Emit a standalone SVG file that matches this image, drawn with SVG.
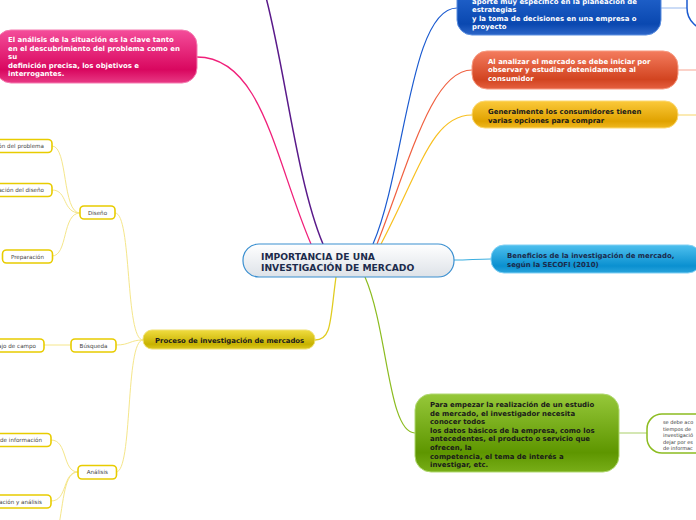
<svg xmlns="http://www.w3.org/2000/svg" width="696" height="520" viewBox="0 0 696 520">
<defs>
<linearGradient id="gCenter" x1="0" y1="0" x2="0" y2="1"><stop offset="0" stop-color="#ffffff"/><stop offset="1" stop-color="#dde2e8"/></linearGradient>
<linearGradient id="gPink" x1="0" y1="0" x2="0" y2="1"><stop offset="0" stop-color="#f44d9a"/><stop offset="0.75" stop-color="#d9075f"/><stop offset="1" stop-color="#e83a85"/></linearGradient>
<linearGradient id="gBlue" x1="0" y1="0" x2="0" y2="1"><stop offset="0" stop-color="#2c6fd8"/><stop offset="0.8" stop-color="#0a48b0"/><stop offset="1" stop-color="#2d66c8"/></linearGradient>
<linearGradient id="gOrange" x1="0" y1="0" x2="0" y2="1"><stop offset="0" stop-color="#f47c5e"/><stop offset="0.75" stop-color="#d24420"/><stop offset="1" stop-color="#e56040"/></linearGradient>
<linearGradient id="gGold" x1="0" y1="0" x2="0" y2="1"><stop offset="0" stop-color="#fbc93a"/><stop offset="0.75" stop-color="#e0a200"/><stop offset="1" stop-color="#f0b820"/></linearGradient>
<linearGradient id="gCyan" x1="0" y1="0" x2="0" y2="1"><stop offset="0" stop-color="#4ec0ee"/><stop offset="0.75" stop-color="#0a90d0"/><stop offset="1" stop-color="#2aa4dc"/></linearGradient>
<linearGradient id="gGreen" x1="0" y1="0" x2="0" y2="1"><stop offset="0" stop-color="#96c83a"/><stop offset="0.75" stop-color="#5e9600"/><stop offset="1" stop-color="#78ae18"/></linearGradient>
<linearGradient id="gOlive" x1="0" y1="0" x2="0" y2="1"><stop offset="0" stop-color="#f0dc40"/><stop offset="0.75" stop-color="#c8b200"/><stop offset="1" stop-color="#dcc820"/></linearGradient>
</defs>
<style>
text{font-family:"DejaVu Sans","Verdana",sans-serif}
.b{font-weight:bold;font-size:6.95px}
.w{fill:#ffffff}
.d{fill:#1a1a1a}
.n{fill:#1c2b4c}
.s{font-size:5.6px;fill:#444444}
.t{font-size:5px;fill:#333333}
.sub{fill:#ffffff;stroke:#e8cc00;stroke-width:1.6}
.c{fill:none}
.ly{stroke:#f5e68a;stroke-width:1}
</style>
<g id="connectors">
<path class="c" d="M311,244 C275,160 262,57 197,57" stroke="#f0207a" stroke-width="1.3"/>
<path class="c" d="M323,244 C296,180 284,60 264,-10" stroke="#5a1a8a" stroke-width="1.5"/>
<path class="c" d="M373,244 C405,170 410,8 457,8" stroke="#1a5ad0" stroke-width="1.2"/>
<path class="c" d="M377,244 C410,160 432,70 472,70" stroke="#f06040" stroke-width="1.2"/>
<path class="c" d="M381,244 C420,170 432,115 472,115" stroke="#f8c020" stroke-width="1.2"/>
<path class="c" d="M454,260 C470,260 475,259 491,259" stroke="#3aaee0" stroke-width="1.2"/>
<path class="c" d="M365,277 C388,330 388,433 415,433" stroke="#8cbc20" stroke-width="1.2"/>
<path class="c" d="M336,277 C330,320 332,340 315,340" stroke="#e0cc20" stroke-width="1.3"/>
<path class="c" d="M661,8 L688,8" stroke="#a8c4f0" stroke-width="1.2"/>
<path class="c" d="M678,70 L696,70" stroke="#f8b4a4" stroke-width="1.2"/>
<path class="c" d="M678,115 L696,115" stroke="#f8dc80" stroke-width="1.2"/>
<path class="c" d="M619,433 L647,433" stroke="#b8d880" stroke-width="1.2"/>
<path class="c ly" d="M143,340 C125,340 132,213 115,213"/>
<path class="c ly" d="M143,340 C130,340 130,345 116,345"/>
<path class="c ly" d="M143,340 C125,340 133,472 116,472"/>
<path class="c ly" d="M80,213 C62,213 68,146 52,146"/>
<path class="c ly" d="M80,213 C62,213 68,190 52,190"/>
<path class="c ly" d="M80,213 C62,213 68,256 52,256"/>
<path class="c ly" d="M71,345 L44,345"/>
<path class="c ly" d="M78,472 C62,472 68,440 51,440"/>
<path class="c ly" d="M78,472 C62,472 68,501 51,501"/>
<path class="c ly" d="M78,472 C64,472 64,500 58,530"/>
</g>
<g id="center">
<rect x="243" y="244" width="211" height="33" rx="16" fill="url(#gCenter)" stroke="#3a8fd0" stroke-width="1.2"/>
<text class="b n" x="261" y="260" style="font-size:9.2px">IMPORTANCIA DE UNA</text>
<text class="b n" x="261" y="271" style="font-size:9.2px">INVESTIGACIÓN DE MERCADO</text>
</g>
<g id="pink">
<rect x="-4" y="30" width="201" height="53" rx="15" fill="url(#gPink)" stroke="#f57ab0" stroke-width="1"/>
<text class="b w" x="8" y="42">El análisis de la situación es la clave tanto</text>
<text class="b w" x="8" y="50.5">en el descubrimiento del problema como en</text>
<text class="b w" x="8" y="59">su</text>
<text class="b w" x="8" y="67.5">definición precisa, los objetivos e</text>
<text class="b w" x="8" y="76">interrogantes.</text>
</g>
<g id="blue">
<rect x="457" y="-20" width="204" height="55" rx="15" fill="url(#gBlue)" stroke="#5a8ee0" stroke-width="1"/>
<text class="b w" x="472" y="4">aporte muy específico en la planeación de</text>
<text class="b w" x="472" y="12.3">estrategias</text>
<text class="b w" x="472" y="20.6"> y la toma de decisiones en una empresa o</text>
<text class="b w" x="472" y="28.9">proyecto</text>
</g>
<g id="blue-child">
<rect x="687" y="-22" width="60" height="52" rx="22" fill="#ffffff" stroke="#1a5ad0" stroke-width="1.5"/>
</g>
<g id="orange">
<rect x="472" y="51" width="206" height="38" rx="15" fill="url(#gOrange)" stroke="#f89a80" stroke-width="1"/>
<text class="b w" x="488" y="63.5">Al analizar el mercado se debe iniciar por</text>
<text class="b w" x="488" y="72">observar y estudiar detenidamente al</text>
<text class="b w" x="488" y="80.5">consumidor</text>
</g>
<g id="gold">
<rect x="472" y="101" width="206" height="27" rx="13" fill="url(#gGold)" stroke="#fcd870" stroke-width="1"/>
<text class="b d" x="488" y="114">Generalmente los consumidores tienen</text>
<text class="b d" x="488" y="122.5">varias opciones para comprar</text>
</g>
<g id="beneficios">
<rect x="491" y="245" width="210" height="28" rx="13" fill="url(#gCyan)" stroke="#80d0f4" stroke-width="1"/>
<text class="b n" x="507" y="258">Beneficios de la investigación de mercado,</text>
<text class="b n" x="507" y="266.5">según la SECOFI (2010)</text>
</g>
<g id="green">
<rect x="415" y="394" width="204" height="78" rx="16" fill="url(#gGreen)" stroke="#b0d870" stroke-width="1"/>
<text class="b d" x="430" y="407">Para empezar la realización de un estudio</text>
<text class="b d" x="430" y="415.6">de mercado, el investigador necesita</text>
<text class="b d" x="430" y="424.2">conocer todos</text>
<text class="b d" x="430" y="432.8">los datos básicos de la empresa, como los</text>
<text class="b d" x="430" y="441.4">antecedentes, el producto o servicio que</text>
<text class="b d" x="430" y="450">ofrecen, la</text>
<text class="b d" x="430" y="458.6">competencia, el tema de interés a</text>
<text class="b d" x="430" y="467.2">investigar, etc.</text>
</g>
<g id="green-child">
<rect x="647" y="414" width="70" height="39" rx="15" fill="#ffffff" stroke="#8cbc20" stroke-width="1.5"/>
<text class="t" x="663" y="424">se debe aco</text>
<text class="t" x="663" y="430.5">tiempos de</text>
<text class="t" x="663" y="437">investigació</text>
<text class="t" x="663" y="443.5">dejar por es</text>
<text class="t" x="663" y="450">de informac</text>
</g>
<g id="proceso">
<rect x="143" y="330" width="172" height="19" rx="9" fill="url(#gOlive)" stroke="#f0e070" stroke-width="1"/>
<text class="b d" x="155" y="342.6" style="font-size:6.9px">Proceso de investigación de mercados</text>
</g>
<g id="diseno">
<rect class="sub" x="80" y="206" width="35" height="13" rx="4"/>
<text class="s" x="97.5" y="214.6" text-anchor="middle">Diseño</text>
</g>
<g id="definicion">
<rect class="sub" x="-10" y="139.5" width="62" height="13" rx="4"/>
<text class="s" x="44" y="148.2" text-anchor="end">ón del problema</text>
</g>
<g id="elaboracion">
<rect class="sub" x="-10" y="183.5" width="62" height="13" rx="4"/>
<text class="s" x="44" y="192.2" text-anchor="end">ación del diseño</text>
</g>
<g id="preparacion">
<rect class="sub" x="2.5" y="250" width="50" height="13" rx="4"/>
<text class="s" x="27.5" y="258.7" text-anchor="middle">Preparación</text>
</g>
<g id="busqueda">
<rect class="sub" x="71" y="339" width="45" height="13" rx="4"/>
<text class="s" x="93.5" y="347.7" text-anchor="middle">Búsqueda</text>
</g>
<g id="trabajo">
<rect class="sub" x="-10" y="339" width="54" height="13" rx="4"/>
<text class="s" x="36" y="347.7" text-anchor="end">ajo de campo</text>
</g>
<g id="analisis">
<rect class="sub" x="78" y="465.5" width="38.5" height="13.5" rx="4"/>
<text class="s" x="97.3" y="474.4" text-anchor="middle">Análisis</text>
</g>
<g id="informacion">
<rect class="sub" x="-10" y="433.5" width="61" height="13" rx="4"/>
<text class="s" x="42" y="442.2" text-anchor="end">de información</text>
</g>
<g id="interpretacion">
<rect class="sub" x="-10" y="495" width="61" height="13" rx="4"/>
<text class="s" x="42" y="503.7" text-anchor="end">ación y análisis</text>
</g>
</svg>
